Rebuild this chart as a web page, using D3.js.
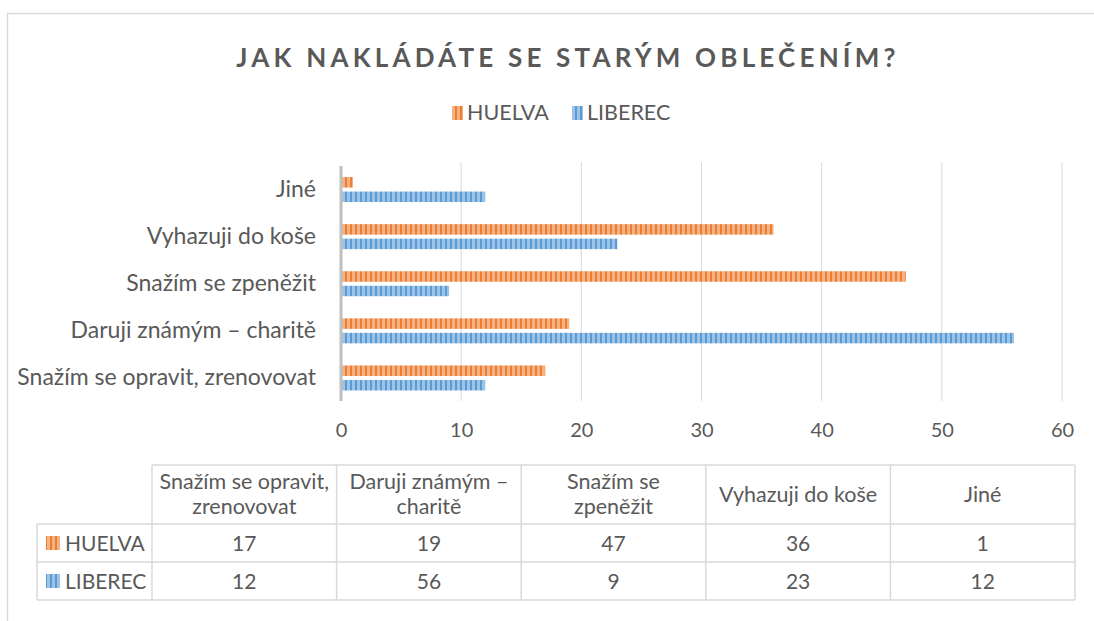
<!DOCTYPE html>
<html><head><meta charset="utf-8">
<script src="https://cdn.jsdelivr.net/npm/d3@7"></script>
<style>
body{margin:0;background:#fff;}
text{font-family:Lato,"Open Sans",sans-serif;fill:#595959;}
</style></head>
<body><svg id="c" width="1094" height="621"></svg>
<script>
const title = "JAK NAKLÁDÁTE SE STARÝM OBLEČENÍM?";
const categories = ["Snažím se opravit, zrenovovat","Daruji známým – charitě","Snažím se zpeněžit","Vyhazuji do koše","Jiné"];
const tableHeaders = [["Snažím se opravit,","zrenovovat"],["Daruji známým –","charitě"],["Snažím se","zpeněžit"],["Vyhazuji do koše"],["Jiné"]];
const seriesNames = ["HUELVA","LIBEREC"];
const huelva = [17,19,47,36,1];
const liberec = [12,56,9,23,12];
const xTicks = [0,10,20,30,40,50,60];
const colors = ["#ED7D31","#5B9BD5"];
const lightColors = ["#F4B183","#9DC3E6"];

const svg = d3.select("#c");
const defs = svg.append("defs");
seriesNames.forEach((s,i)=>{
  const p = defs.append("pattern").attr("id","pat"+i).attr("patternUnits","userSpaceOnUse")
    .attr("width",5).attr("height",10);
  p.append("rect").attr("width",5).attr("height",10).attr("fill",lightColors[i]);
  p.append("rect").attr("width",2).attr("height",10).attr("fill",colors[i]);
});

// frame
svg.append("path").attr("d","M7.5,621 V13.5 H1094").attr("fill","none").attr("stroke","#D9D9D9").attr("stroke-width",1.5);

// title
svg.append("text").attr("x",568).attr("y",67).attr("text-anchor","middle")
  .style("font-size","26px").style("font-weight","bold").style("letter-spacing","4.2px").text(title);

// legend
const legend = svg.append("g");
const legX = [452,572];
seriesNames.forEach((s,i)=>{
  legend.append("rect").attr("x",legX[i]).attr("y",106).attr("width",11).attr("height",14).attr("fill","url(#pat"+i+")");
  legend.append("text").attr("x",legX[i]+15).attr("y",120).style("font-size","21.5px").text(s);
});

// scales
const x = d3.scaleLinear().domain([0,60]).range([341,1062]);
const y = d3.scaleBand().domain(categories.slice().reverse()).range([166,401.5]);

// gridlines
svg.append("g").selectAll("line").data(xTicks.slice(1)).join("line")
  .attr("x1",d=>x(d)).attr("x2",d=>x(d)).attr("y1",162).attr("y2",401)
  .attr("stroke","#D9D9D9").attr("stroke-width",1);

// x axis
const xAxis = svg.append("g").attr("transform","translate(0,401)")
  .call(d3.axisBottom(x).tickValues(xTicks).tickSize(0).tickPadding(22));
xAxis.select(".domain").remove();
xAxis.selectAll("text").style("font-size","20px").attr("fill","#595959").style("font-family","Lato,sans-serif");

// y axis labels
const yAxis = svg.append("g").attr("transform","translate(341,0)")
  .call(d3.axisLeft(y).tickSize(0).tickPadding(25));
yAxis.select(".domain").remove();
yAxis.selectAll("text").style("font-size","23px").attr("fill","#595959").style("font-family","Lato,sans-serif");

// bars
const barH = 10.5, offs = [-12.5, 2];
const series = [huelva, liberec];
series.forEach((vals,i)=>{
  svg.append("g").selectAll("rect").data(vals).join("rect")
    .attr("x",x(0)).attr("width",d=>x(d)-x(0))
    .attr("y",(d,j)=>y(categories[j])+y.bandwidth()/2+offs[i]).attr("height",barH)
    .attr("fill","url(#pat"+i+")");
});

// axis line at 0
svg.append("line").attr("x1",x(0)).attr("x2",x(0)).attr("y1",166).attr("y2",401)
  .attr("stroke","#BFBFBF").attr("stroke-width",3);

// data table
const tx0 = 152, tx1 = 1075, lx = 37;
const colW = (tx1-tx0)/categories.length;
const rowY = [465,524,562,600];
const tbl = svg.append("g");
const gridC = "#D9D9D9";
tbl.append("line").attr("x1",tx0).attr("x2",tx1).attr("y1",rowY[0]).attr("y2",rowY[0]).attr("stroke",gridC).attr("stroke-width",1.5);
[1,2,3].forEach(r=>tbl.append("line").attr("x1",lx).attr("x2",tx1).attr("y1",rowY[r]).attr("y2",rowY[r]).attr("stroke",gridC).attr("stroke-width",1.5));
tbl.append("line").attr("x1",lx).attr("x2",lx).attr("y1",rowY[1]).attr("y2",rowY[3]).attr("stroke",gridC).attr("stroke-width",1.5);
d3.range(categories.length+1).forEach(k=>tbl.append("line").attr("x1",tx0+k*colW).attr("x2",tx0+k*colW)
  .attr("y1",rowY[0]).attr("y2",rowY[3]).attr("stroke",gridC).attr("stroke-width",1.5));
tableHeaders.forEach((lines,k)=>{
  const cx = tx0+(k+0.5)*colW, cy=(rowY[0]+rowY[1])/2;
  const t = tbl.append("text").attr("text-anchor","middle").style("font-size","21.5px");
  lines.forEach((ln,li)=>{
    t.append("tspan").attr("x",cx).attr("y",cy+7+(li-(lines.length-1)/2)*25).text(ln);
  });
});
series.forEach((vals,i)=>{
  const cy=(rowY[i+1]+rowY[i+2])/2;
  tbl.append("rect").attr("x",46).attr("y",cy-7).attr("width",14).attr("height",14).attr("fill","url(#pat"+i+")");
  tbl.append("text").attr("x",65).attr("y",cy+8).style("font-size","21px").text(seriesNames[i]);
  tbl.selectAll(null).data(vals).join("text").attr("text-anchor","middle")
    .attr("x",(d,k)=>tx0+(k+0.5)*colW).attr("y",cy+8).style("font-size","21px").text(d=>d);
});
</script></body></html>
